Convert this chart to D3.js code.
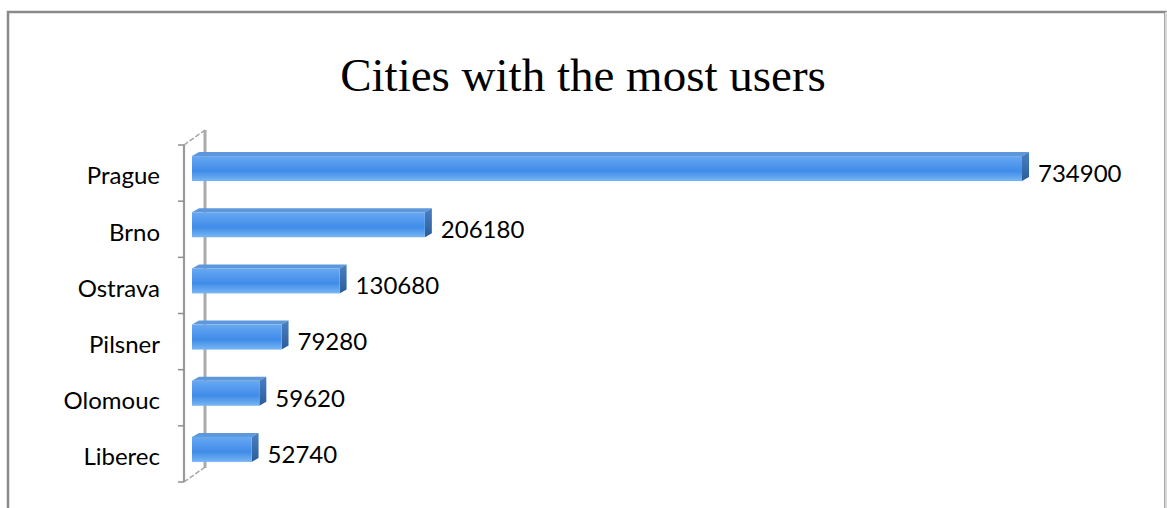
<!DOCTYPE html>
<html><head><meta charset="utf-8">
<script src="https://cdn.jsdelivr.net/npm/d3@7"></script>
<style>body{margin:0;background:#fff;} svg{display:block;}</style>
</head><body>
<svg id="c" width="1167" height="508"></svg>
<script>
const categories = ["Prague","Brno","Ostrava","Pilsner","Olomouc","Liberec"];
const values = [734900,206180,130680,79280,59620,52740];
const title = "Cities with the most users";

(function(){
const svg = d3.select("#c");
const W = 1167, H = 508;

// frame
svg.append("rect").attr("x",8).attr("y",12).attr("width",1157.5).attr("height",520)
  .attr("fill","#fff").attr("stroke","#8a8a8a").attr("stroke-width",2.5);
svg.append("line").attr("x1",1166).attr("x2",1166).attr("y1",12).attr("y2",H)
  .attr("stroke","#d8d8d8").attr("stroke-width",2);

svg.append("text").attr("x",583).attr("y",91).attr("text-anchor","middle")
  .attr("font-family","Liberation Serif, Times New Roman, serif").attr("font-size",47)
  .attr("fill","#000").text(title);

const y = d3.scaleBand().domain(categories).range([145,482]).paddingInner(0).paddingOuter(0);
const x = d3.scaleLinear().domain([0, d3.max(values)]).range([192, 1022]);
const dx = 21, dy = -15; // wall depth

const defs = svg.append("defs");
const g1 = defs.append("linearGradient").attr("id","front").attr("x1",0).attr("x2",0).attr("y1",0).attr("y2",1);
[[0,"#6aa9ee"],[0.2,"#5a9ef0"],[0.6,"#3f8ce8"],[1,"#78b6f4"]].forEach(([o,c])=>g1.append("stop").attr("offset",o).attr("stop-color",c));
const g2 = defs.append("linearGradient").attr("id","endf").attr("x1",0).attr("x2",0).attr("y1",0).attr("y2",1);
[[0,"#4a80c4"],[1,"#2a5c9a"]].forEach(([o,c])=>g2.append("stop").attr("offset",o).attr("stop-color",c));

// walls
const wall = svg.append("g").attr("stroke","#a6a6a6").attr("fill","none");
const yTop = y.range()[0], yBot = y.range()[1], ax = 184;
wall.append("line").attr("x1",ax+dx).attr("x2",ax+dx).attr("y1",yTop+dy).attr("y2",yBot+dy+1).attr("stroke-width",3).attr("stroke","#aaaaaa");
wall.append("line").attr("x1",ax).attr("x2",ax+dx).attr("y1",yTop).attr("y2",yTop+dy).attr("stroke-width",1.5).attr("stroke-dasharray","5,2");
wall.append("line").attr("x1",ax).attr("x2",ax+dx).attr("y1",yBot).attr("y2",yBot+dy).attr("stroke-width",1.5).attr("stroke-dasharray","5,2");
wall.append("line").attr("x1",ax).attr("x2",ax).attr("y1",yTop).attr("y2",yBot).attr("stroke-width",2.2).attr("stroke","#9a9a9a");
const ticks = categories.map(c=>y(c)).concat([yBot]);
wall.selectAll(".tk").data(ticks).join("line").attr("x1",ax-6).attr("x2",ax).attr("y1",d=>d).attr("y2",d=>d)
  .attr("stroke","#8f8f8f").attr("stroke-width",1.5);

// bars
const bh = 25;
const ex = 7, ey = -4;
const bars = svg.append("g").selectAll("g").data(categories.map((c,i)=>({c,v:values[i]}))).join("g");
bars.each(function(d){
  const g = d3.select(this);
  const y0 = y(d.c) + y.bandwidth()/2 - 17;
  const x0 = x(0), x1 = x(d.v);
  g.append("path").attr("d",`M${x0},${y0} L${x0+ex},${y0+ey} L${x1+ex},${y0+ey} L${x1},${y0} Z`).attr("fill","#5d98dc");
  g.append("path").attr("d",`M${x1},${y0} L${x1+ex},${y0+ey} L${x1+ex},${y0+ey+bh} L${x1},${y0+bh} Z`).attr("fill","url(#endf)");
  g.append("rect").attr("x",x0).attr("y",y0).attr("width",x1-x0).attr("height",bh).attr("fill","url(#front)");
  g.append("text").attr("x",x1+16).attr("y",y0+bh/2+5).attr("dy","0.35em")
    .attr("font-family","Lato, Carlito, sans-serif").attr("font-size",24).attr("fill","#000").text(d3.format("d")(d.v));
});

svg.append("g").selectAll("text").data(categories).join("text")
  .attr("x",160).attr("y",d=>y(d)+y.bandwidth()/2+3).attr("dy","0.35em").attr("text-anchor","end")
  .attr("font-family","Lato, Carlito, sans-serif").attr("font-size",24).attr("fill","#000").text(d=>d);
})();
</script>
</body></html>
